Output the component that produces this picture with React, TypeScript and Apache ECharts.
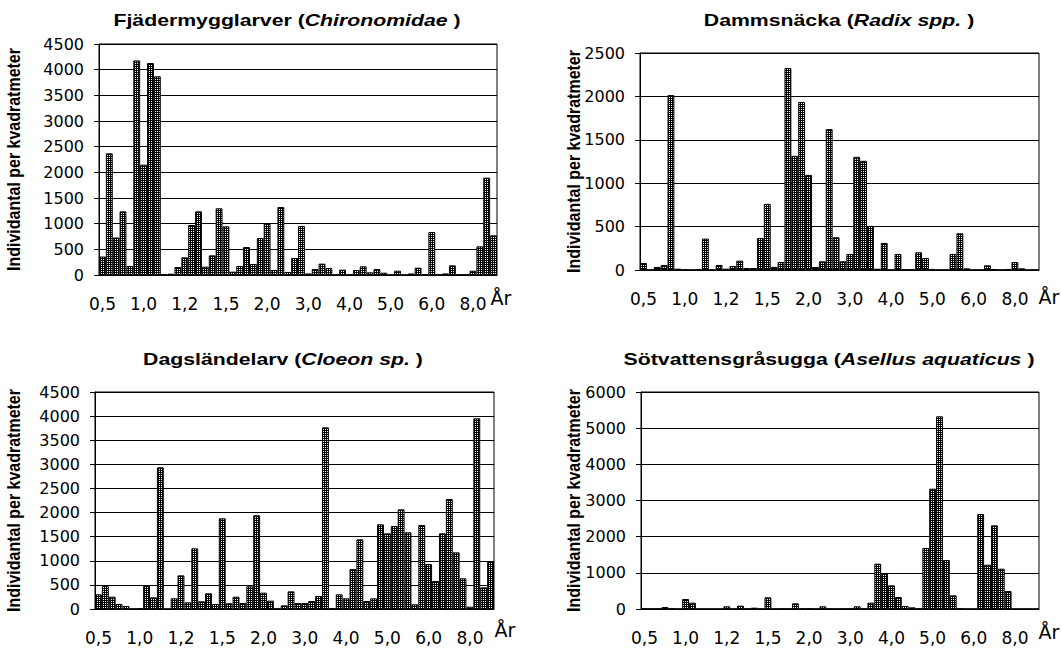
import { useEffect, useRef } from "react";
import * as echarts from "echarts";

// Sample ages (år); one entry per sampling occasion
const categories = [
  "0,5", "0,5", "0,5", "0,5", "0,5", "0,5",
  "1,0", "1,0", "1,0", "1,0", "1,0", "1,0",
  "1,2", "1,2", "1,2", "1,2", "1,2", "1,2",
  "1,5", "1,5", "1,5", "1,5", "1,5", "1,5",
  "2,0", "2,0", "2,0", "2,0", "2,0", "2,0",
  "3,0", "3,0", "3,0", "3,0", "3,0", "3,0",
  "4,0", "4,0", "4,0", "4,0", "4,0", "4,0",
  "5,0", "5,0", "5,0", "5,0", "5,0", "5,0",
  "6,0", "6,0", "6,0", "6,0", "6,0", "6,0",
  "8,0", "8,0", "8,0", "8,0",
];

// Individuals per square metre
const chironomidae = [
  360, 2370, 730, 1240, 175, 4180, 2150, 4130, 3870, 10,
  25, 156, 344, 974, 1240, 162, 383, 1299, 948, 65,
  175, 545, 214, 721, 1000, 97, 1325, 58, 331, 955,
  30, 117, 221, 136, 0, 104, 5, 97, 169, 52,
  117, 45, 0, 84, 0, 30, 143, 15, 838, 5,
  30, 188, 5, 5, 84, 558, 1896, 773,
];

const radix = [
  81, 0, 35, 58, 2015, 15, 3, 0, 12, 362,
  0, 58, 15, 46, 108, 23, 23, 369, 762, 35,
  92, 2327, 1315, 1935, 1096, 35, 100, 1623, 377, 100,
  185, 1304, 1258, 508, 15, 312, 0, 185, 4, 4,
  204, 138, 12, 0, 0, 185, 423, 19, 0, 0,
  54, 12, 0, 8, 92, 19, 0, 0,
];

const cloeon = [
  304, 477, 256, 104, 62, 0, 14, 491, 242, 2938,
  0, 221, 698, 138, 1258, 159, 325, 104, 1880, 118,
  256, 124, 470, 1943, 339, 173, 7, 76, 366, 124,
  124, 166, 270, 3767, 14, 304, 221, 830, 1445, 166,
  221, 1756, 1569, 1721, 2067, 1590, 97, 1742, 933, 581,
  1569, 2281, 1175, 636, 48, 3954, 449, 988,
];

const asellus = [
  10, 5, 10, 55, 10, 0, 276, 175, 0, 0,
  0, 0, 74, 0, 92, 10, 37, 5, 323, 5,
  10, 10, 157, 10, 18, 5, 74, 5, 0, 10,
  10, 74, 10, 175, 1253, 968, 654, 332, 83, 46,
  10, 1687, 3327, 5327, 1355, 378, 10, 0, 0, 2627,
  1226, 2313, 1115, 498, 0, 0, 0, 0,
];

const titles = [
  { name: "Fjädermygglarver (", latin: "Chironomidae" },
  { name: "Dammsnäcka (", latin: "Radix spp." },
  { name: "Dagsländelarv (", latin: "Cloeon sp." },
  { name: "Sötvattensgråsugga (", latin: "Asellus aquaticus" },
];
const yMax = [4500, 2500, 4500, 6000];
const yStep = [500, 500, 500, 1000];
const seriesData = [chironomidae, radix, cloeon, asellus];
const yName = "Individantal per kvadratmeter";
const xName = "År";

const TITLE_FONT = "'Liberation Sans', Arial, sans-serif";
const TICK_FONT = "'DejaVu Sans', sans-serif";

// plot rectangles: left, top, width, height
const grids = [
  { left: 99, top: 44, width: 398, height: 231 },
  { left: 640, top: 53, width: 399, height: 217 },
  { left: 95, top: 392, width: 399, height: 217 },
  { left: 641, top: 392, width: 398, height: 217 },
];
// title centres and "År" label centres per panel
const titlePos = [
  [287, 20],
  [839, 20],
  [283, 359],
  [829, 359],
];
const xNamePos = [
  [501, 298],
  [1049, 297],
  [505, 630],
  [1049, 632],
];
const yNameX = [14, 574, 14, 574];

// small checked fill used inside the bars
function gridTile(): string {
  const c = document.createElement("canvas");
  c.width = 2;
  c.height = 2;
  const ctx = c.getContext("2d")!;
  ctx.fillStyle = "#ffffff";
  ctx.fillRect(0, 0, 2, 2);
  ctx.fillStyle = "#000000";
  ctx.fillRect(0, 0, 2, 1);
  ctx.fillRect(0, 0, 1, 2);
  return c.toDataURL();
}

export default function App() {
  const ref = useRef<HTMLDivElement>(null);

  useEffect(() => {
    if (!ref.current) return;
    const chart = echarts.init(ref.current, null, { renderer: "svg" });
    const pattern = {
      image: gridTile(),
      repeat: "repeat",
      imageWidth: 2,
      imageHeight: 2,
    };

    const graphic: any[] = [];
    grids.forEach((g, i) => {
      const t = titles[i];
      graphic.push({
        type: "text",
        x: titlePos[i][0],
        y: titlePos[i][1],
        scaleX: 1.25,
        style: {
          text: `{b|${t.name}}{i|${t.latin}}{b| )}`,
          align: "center",
          verticalAlign: "middle",
          rich: {
            b: { fontFamily: TITLE_FONT, fontSize: 17, fontWeight: "bold", fill: "#000" },
            i: {
              fontFamily: TITLE_FONT,
              fontSize: 17,
              fontWeight: "bold",
              fontStyle: "italic",
              fill: "#000",
            },
          },
        },
      });
      graphic.push({
        type: "text",
        x: yNameX[i],
        y: g.top + g.height / 2,
        rotation: Math.PI / 2,
        scaleY: 1.1,
        style: {
          text: yName,
          align: "center",
          verticalAlign: "middle",
          fontFamily: TITLE_FONT,
          fontSize: 16,
          fontWeight: "bold",
          fill: "#000",
        },
      });
      graphic.push({
        type: "text",
        x: xNamePos[i][0],
        y: xNamePos[i][1],
        style: {
          text: xName,
          align: "center",
          verticalAlign: "middle",
          fontFamily: TICK_FONT,
          fontSize: 19,
          fill: "#000",
        },
      });
    });

    const option: any = {
      animation: false,
      backgroundColor: "#ffffff",
      grid: grids.map((g) => ({
        ...g,
        show: true,
        borderColor: "#000",
        borderWidth: 1,
        containLabel: false,
      })),
      xAxis: grids.map((_, i) => ({
        type: "category",
        gridIndex: i,
        data: categories,
        axisLine: { show: true, lineStyle: { color: "#000", width: 1 } },
        axisTick: { show: false },
        axisLabel: {
          interval: 5,
          color: "#000",
          fontFamily: TICK_FONT,
          fontSize: 17,
          margin: 20,
        },
      })),
      yAxis: grids.map((_, i) => ({
        type: "value",
        gridIndex: i,
        min: 0,
        max: yMax[i],
        interval: yStep[i],
        axisLine: { show: true, lineStyle: { color: "#000", width: 1 } },
        axisTick: { show: true, length: 5, lineStyle: { color: "#000" } },
        splitLine: { show: true, lineStyle: { color: "#000", width: 1 } },
        axisLabel: {
          color: "#000",
          fontFamily: TICK_FONT,
          fontSize: 16,
          margin: 15,
          formatter: (v: number) => String(v),
        },
      })),
      series: seriesData.map((d, i) => ({
        type: "bar",
        xAxisIndex: i,
        yAxisIndex: i,
        data: d,
        barCategoryGap: "0%",
        itemStyle: {
          color: pattern,
          borderColor: "#000",
          borderWidth: 1,
        },
      })),
      graphic,
    };

    chart.setOption(option);
    return () => chart.dispose();
  }, []);

  return (
    <div
      ref={ref}
      style={{ position: "fixed", left: 0, top: 0, width: 1061, height: 649 }}
    />
  );
}
